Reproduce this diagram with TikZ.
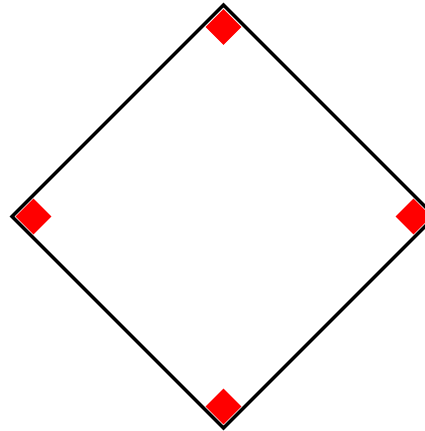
\documentclass[tikz,border=0pt]{standalone}
\usetikzlibrary{shapes.geometric}
\begin{document}
\begin{tikzpicture}[x=1pt,y=-1pt,
  redmark/.style={diamond,fill=red,draw=none,minimum width=36pt,minimum height=36pt,inner sep=0pt,aspect=1},
  edge/.style={line width=3.2pt,line join=miter,draw=black}]
\useasboundingbox (0,0) rectangle (425,431);
\coordinate (T) at (223.5,5);
\coordinate (L) at (12,216.5);
\coordinate (R) at (435,216.5);
\coordinate (B) at (223.5,428);
\node[redmark] (rt) at (223.5,27) {};
\node[redmark] (rl) at (33.5,216.5) {};
\node[redmark] (rr) at (413.5,216.5) {};
\node[redmark] (rb) at (223.5,406.5) {};
\draw[edge] (T) -- (R) -- (B) -- (L) -- cycle;
\end{tikzpicture}
\end{document}
